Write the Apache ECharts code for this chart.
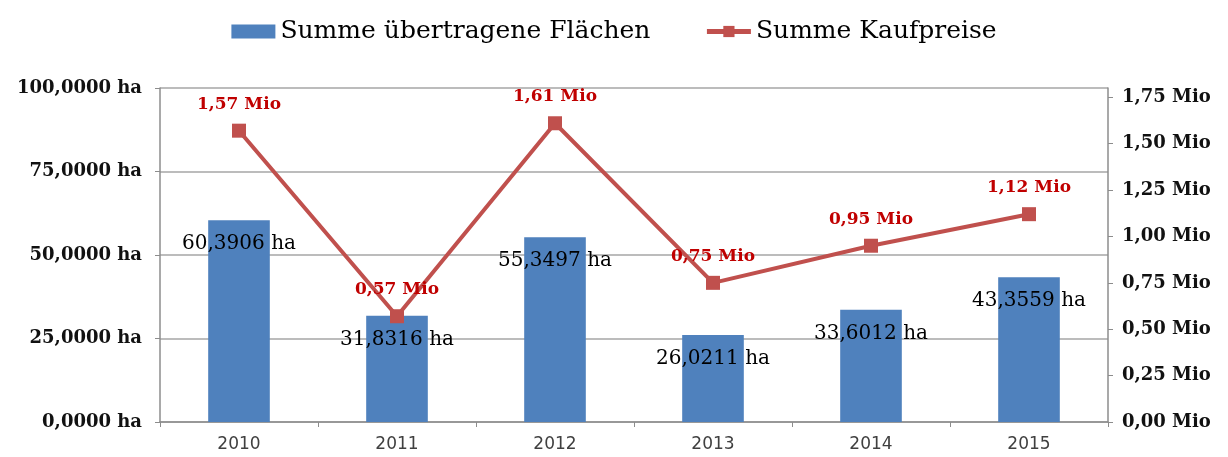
<!DOCTYPE html>
<html>
<head>
<meta charset="utf-8">
<script src="https://cdn.jsdelivr.net/npm/echarts@6/dist/echarts.min.js"></script>
<style>
  html, body { margin: 0; padding: 0; background: #fff; }
  #chart { width: 1228px; height: 457px; }
</style>
</head>
<body>
<div id="chart"></div>
<script>
// Daten
var years = ['2010', '2011', '2012', '2013', '2014', '2015'];
var flaechen = [60.3906, 31.8316, 55.3497, 26.0211, 33.6012, 43.3559];
var kaufpreise = [1.57, 0.57, 1.61, 0.75, 0.95, 1.12];
// Beschriftungen der rechten Achse (Mio)
var mioTicks = [0, 0.25, 0.5, 0.75, 1.0, 1.25, 1.5, 1.75];

function komma(v, n) {
	return Number(v).toFixed(n).replace('.', ',');
}

var chart = echarts.init(document.getElementById('chart'));

var serif = 'DejaVu Serif';

option = {
	animation: false,
	legend: {
		top: 14,
		left: 'center',
		itemGap: 54,
		itemWidth: 44,
		itemHeight: 14,
		textStyle: { fontFamily: serif, fontSize: 25, color: '#000' },
		data: [
			{ name: 'Summe übertragene Flächen', icon: 'rect' },
			{ name: 'Summe Kaufpreise', lineStyle: { width: 5 } }
		]
	},
	grid: { left: 160, right: 120, top: 88, bottom: 35 },
	xAxis: {
		type: 'category',
		data: years,
		axisLine: { lineStyle: { color: '#8c8c8c', width: 1.5 } },
		axisTick: { show: true, length: 5, lineStyle: { color: '#8c8c8c' } },
		axisLabel: { fontFamily: 'DejaVu Sans', fontSize: 17, color: '#404040', margin: 14 }
	},
	yAxis: [
		{
			type: 'value',
			min: 0, max: 100, interval: 25,
			axisLine: { show: true, lineStyle: { color: '#8c8c8c', width: 1.5 } },
			axisTick: { show: true, length: 5, lineStyle: { color: '#8c8c8c' } },
			splitLine: { lineStyle: { color: '#a6a6a6', width: 1.5 } },
			axisLabel: {
				fontFamily: serif, fontWeight: 'bold', fontSize: 18, color: '#111', margin: 18,
				formatter: function (v) { return komma(v, 4) + ' ha'; }
			}
		},
		{
			type: 'value',
			min: 0, max: 1.8, interval: 0.25,
			axisLine: { show: true, lineStyle: { color: '#8c8c8c', width: 1.5 } },
			axisTick: { show: true, length: 5, customValues: mioTicks, lineStyle: { color: '#8c8c8c' } },
			splitLine: { show: false },
			axisLabel: {
				customValues: mioTicks,
				fontFamily: serif, fontWeight: 'bold', fontSize: 18, color: '#111', margin: 14,
				formatter: function (v) { return komma(v, 2) + ' Mio'; }
			}
		}
	],
	series: [
		{
			name: 'Summe übertragene Flächen',
			type: 'bar',
			data: flaechen,
			barWidth: '39%',
			itemStyle: { color: '#4f81bd' },
			label: {
				show: true,
				position: 'insideTop',
				distance: 14,
				fontFamily: serif, fontSize: 20, color: '#000',
				formatter: function (p) { return komma(p.value, 4) + ' ha'; }
			}
		},
		{
			name: 'Summe Kaufpreise',
			type: 'line',
			yAxisIndex: 1,
			data: kaufpreise,
			symbol: 'rect',
			symbolSize: 14,
			lineStyle: { color: '#c0504d', width: 4 },
			itemStyle: { color: '#c0504d' },
			label: {
				show: true,
				position: 'top',
				distance: 11,
				fontFamily: serif, fontWeight: 'bold', fontSize: 17, color: '#c00000',
				formatter: function (p) { return komma(p.value, 2) + ' Mio'; }
			}
		}
	]
};
chart.setOption(option);
</script>
</body>
</html>
